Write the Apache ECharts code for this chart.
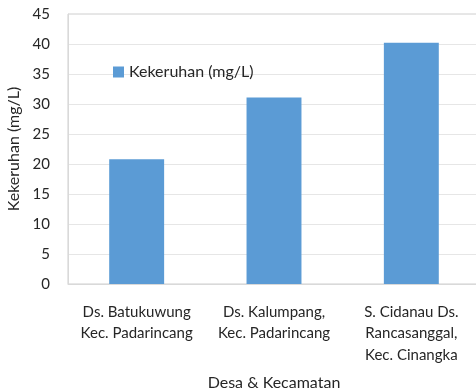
<!DOCTYPE html>
<html>
<head>
<meta charset="utf-8">
<script src="https://cdn.jsdelivr.net/npm/echarts@6/dist/echarts.min.js"></script>
<style>
  html, body { margin: 0; padding: 0; background: #fff; }
  #chart { width: 476px; height: 392px; }
</style>
</head>
<body>
<div id="chart"></div>
<script>
// Turbidity per village / sub-district
const categories = [
  'Ds. Batukuwung\nKec. Padarincang',
  'Ds. Kalumpang,\nKec. Padarincang',
  'S. Cidanau Ds.\nRancasanggal,\nKec. Cinangka'
];
const kekeruhan = [20.8, 31.1, 40.2];
const seriesName = 'Kekeruhan (mg/L)';
const yAxisTitle = 'Kekeruhan (mg/L)';
const xAxisTitle = 'Desa & Kecamatan';

const font = 'Lato, "Open Sans", sans-serif';
const textColor = '#262626';

const chart = echarts.init(document.getElementById('chart'));
chart.setOption({
  animation: false,
  textStyle: { fontFamily: font },
  grid: {
    left: 68, top: 14, right: -4, bottom: 108,
    outerBoundsMode: 'none',
    containLabel: false,
    show: true, borderColor: '#cfcfcf', borderWidth: 1
  },
  legend: {
    left: 108, top: 59,
    itemWidth: 11, itemHeight: 11,
    icon: 'rect',
    textStyle: { fontSize: 16, color: textColor, fontFamily: font },
    data: [seriesName]
  },
  xAxis: {
    type: 'category',
    data: categories,
    name: xAxisTitle,
    nameLocation: 'middle',
    nameGap: 91,
    nameTextStyle: { fontSize: 16, color: textColor, fontFamily: font },
    axisLine: { lineStyle: { color: '#d9d9d9' } },
    axisTick: { show: false },
    axisLabel: {
      fontSize: 15, color: textColor, lineHeight: 21.7, margin: 17,
      interval: 0, fontFamily: font
    }
  },
  yAxis: {
    type: 'value',
    min: 0, max: 45, interval: 5,
    name: yAxisTitle,
    nameLocation: 'middle',
    nameGap: 44,
    nameRotate: 90,
    nameTextStyle: { fontSize: 16, color: textColor, fontFamily: font },
    axisLine: { show: true, lineStyle: { color: '#d9d9d9' } },
    axisTick: { show: false },
    axisLabel: { fontSize: 15, color: textColor, margin: 18, fontFamily: font },
    splitLine: { lineStyle: { color: '#e6e6e6' } }
  },
  series: [{
    name: seriesName,
    type: 'bar',
    data: kekeruhan,
    barWidth: '40%',
    itemStyle: { color: '#5b9bd5' }
  }]
});
</script>
</body>
</html>
